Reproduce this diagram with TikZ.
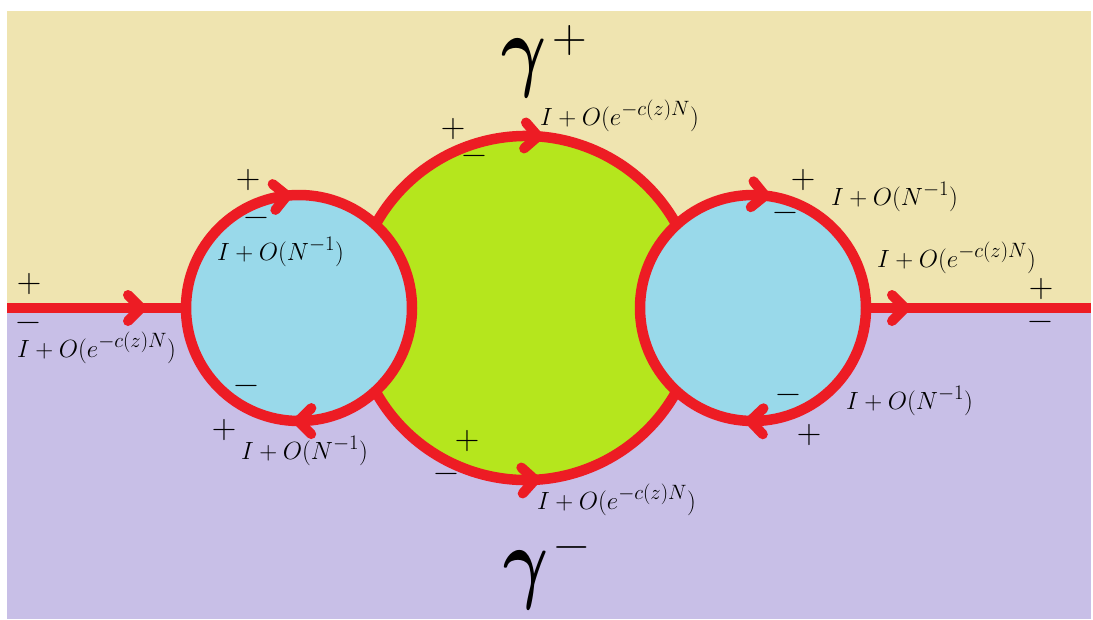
\documentclass[tikz,border=0pt]{standalone}
\usepackage{graphicx}
\usepackage{fontspec}
\usetikzlibrary{decorations.markings}
\definecolor{cream}{HTML}{EFE4B0}
\definecolor{lavender}{HTML}{C8BFE7}
\definecolor{turq}{HTML}{99D9EA}
\definecolor{lime}{HTML}{B5E61D}
\definecolor{pred}{HTML}{ED1C24}
\tikzset{
  redline/.style={draw=pred, line width=10.5pt},
  chevron/.style={draw=pred, line width=10pt, line cap=round, line join=miter},
  arrowat/.style={postaction={decorate, decoration={markings,
      mark=at position #1 with {\draw[chevron] (-13pt,13pt) -- (0pt,0pt) -- (-13pt,-13pt);}}}},
  lab/.style={inner sep=0pt, anchor=base west, font=\fontsize{24.88}{30}\selectfont},
  sgn/.style={inner sep=0pt, font=\fontsize{34}{40}\selectfont},
  gam/.style={inner sep=0pt, anchor=base west, font=\fontsize{10}{12}\selectfont},
}
\newcommand{\biggam}{\scalebox{6.9}[9.1]{\boldmath$\gamma$}}
\begin{document}
\begin{tikzpicture}[x=1pt, y=-1pt]
\useasboundingbox (0,0) rectangle (1093,619);
\fill[white] (0,0) rectangle (1093,619);
\fill[cream] (7,11) rectangle (1091,308);
\fill[lavender] (7,308) rectangle (1091,619);
% horizontal lines
\coordinate (L0) at (7,308);
\coordinate (L1) at (240,308);
\coordinate (R0) at (800,308);
\coordinate (R1) at (1091,308);
\draw[redline, arrowat=134pt] (L0) -- (L1);
\draw[redline, arrowat=105pt] (R0) -- (R1);
% central green disc
\fill[lime] (526,308) circle[radius=172];
\draw[redline, arrowat=0.5] (526,308) ++(200:172) arc[start angle=200, end angle=348, radius=172];
\draw[redline, arrowat=0.5] (526,308) ++(160:172) arc[start angle=160, end angle=14, radius=172];
% side discs
\fill[turq] (299,308) circle[radius=113];
\fill[turq] (753,308) circle[radius=113];
\draw[redline, arrowat=0.233, arrowat=0.751] (186,308) arc[start angle=180, end angle=540, radius=113] -- cycle;
\draw[redline, arrowat=0.267, arrowat=0.754] (640,308) arc[start angle=180, end angle=540, radius=113] -- cycle;
% labels
\node[lab] (t1) at (540,125) {$I+O(e^{-c(z)N})$};
\node[lab] (t2) at (17,357) {$I+O(e^{-c(z)N})$};
\node[lab] (t3) at (217,260) {$I+O(N^{-1})$};
\node[lab] (t4) at (241,459) {$I+O(N^{-1})$};
\node[lab] (t5) at (537,509) {$I+O(e^{-c(z)N})$};
\node[lab] (t6) at (831,205) {$I+O(N^{-1})$};
\node[lab] (t7) at (877,267) {$I+O(e^{-c(z)N})$};
\node[lab] (t8) at (846,409) {$I+O(N^{-1})$};
% signs
\node[sgn] (p1) at (453,129) {+};
\node[sgn] (m1) at (474,160) {−};
\node[sgn] (p2) at (29,284) {+};
\node[sgn] (m2) at (28,327) {−};
\node[sgn] (p3) at (248,180) {+};
\node[sgn] (m3) at (256,222) {−};
\node[sgn] (m4) at (246,390) {−};
\node[sgn] (p4) at (224,430) {+};
\node[sgn] (p5) at (467,441) {+};
\node[sgn] (m5) at (446,478) {−};
\node[sgn] (p6) at (803,180) {+};
\node[sgn] (m6) at (785,217) {−};
\node[sgn] (p7) at (1041,289) {+};
\node[sgn] (m7) at (1040,326) {−};
\node[sgn] (m8) at (788,399) {−};
\node[sgn] (p8) at (809,435) {+};
% gammas
\node[gam] (gp) at (501,79) {\biggam\hspace{6pt}\raisebox{27pt}{\fontsize{48}{48}\selectfont +}};
\node[gam] (gm) at (503,591) {\biggam\hspace{6pt}\raisebox{32pt}{\fontsize{48}{48}\selectfont −}};
\end{tikzpicture}
\end{document}
